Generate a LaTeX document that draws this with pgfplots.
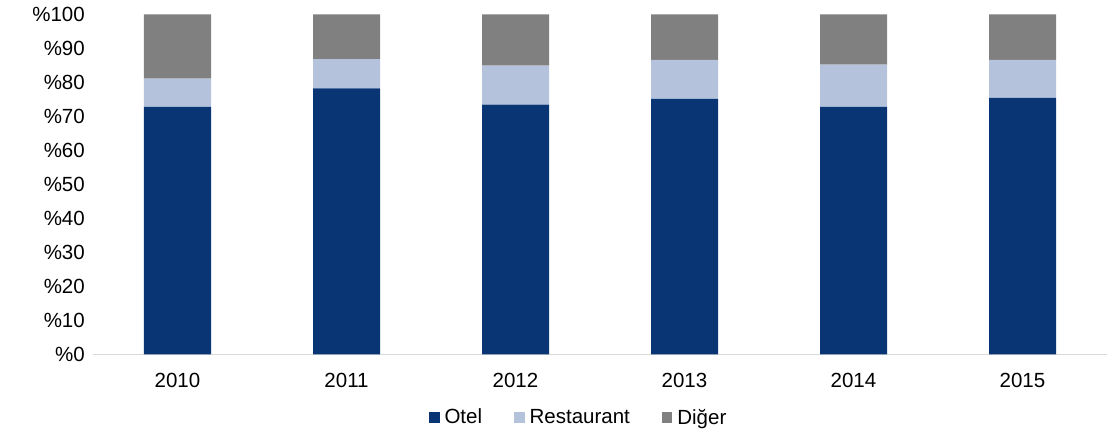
\documentclass[border=0pt]{standalone}
\usepackage{fontspec}
\setmainfont{Liberation Sans}
\usepackage{pgfplots}
\pgfplotsset{compat=1.18}
\definecolor{otel}{HTML}{0A3575}
\definecolor{rest}{HTML}{B4C3DB}
\definecolor{diger}{HTML}{808080}
\definecolor{axisgray}{HTML}{D9D9D9}
\begin{document}
\begin{tikzpicture}
\useasboundingbox (0,0) rectangle (1119bp,433bp);
\begin{axis}[
  at={(93bp,78.7bp)}, anchor=south west,
  scale only axis, width=1014bp, height=340bp,
  ybar stacked, bar width=67bp,
  xmin=-0.5, xmax=5.5, ymin=0, ymax=100,
  xtick={0,1,2,3,4,5},
  xticklabels={2010,2011,2012,2013,2014,2015},
  ytick={0,10,20,30,40,50,60,70,80,90,100},
  yticklabels={\%0,\%10,\%20,\%30,\%40,\%50,\%60,\%70,\%80,\%90,\%100},
  axis x line*=bottom, axis y line*=left,
  x axis line style={draw=axisgray, line width=1.2pt, -},
  y axis line style={draw=none},
  major tick length=0pt,
  tick style={draw=none},
  yticklabel style={inner sep=0pt, xshift=-8bp, anchor=east},
  xticklabel style={inner sep=0pt, yshift=-19bp, anchor=north},
  ticklabel style={font=\fontsize{20.5bp}{24bp}\selectfont},
  legend style={at={(0.479,-0.185)}, anchor=center, draw=none, legend columns=3,
    font=\fontsize{20.5bp}{24bp}\selectfont,
    /tikz/every odd column/.append style={column sep=3bp},
    /tikz/every even column/.append style={column sep=30bp}},
  legend image code/.code={\fill[#1] (0bp,-5.5bp) rectangle (10.5bp,5.5bp);},
  clip=false,
]
\addplot[fill=otel, draw=none] coordinates {(0,72.8) (1,78.2) (2,73.4) (3,75.1) (4,72.8) (5,75.4)};
\addplot[fill=rest, draw=none] coordinates {(0,8.3) (1,8.6) (2,11.5) (3,11.5) (4,12.4) (5,11.2)};
\addplot[fill=diger, draw=none] coordinates {(0,18.9) (1,13.2) (2,15.1) (3,13.4) (4,14.8) (5,13.4)};
\legend{Otel,Restaurant,Diğer}
\end{axis}
\end{tikzpicture}
\end{document}
